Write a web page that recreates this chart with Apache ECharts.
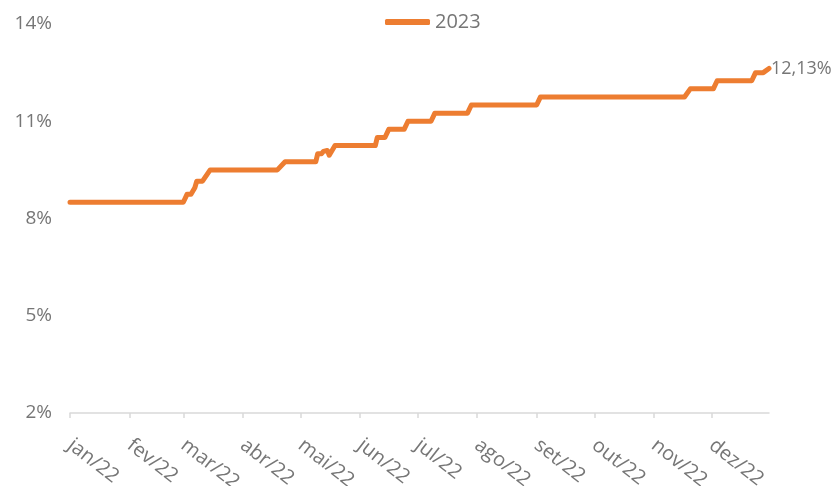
<!DOCTYPE html>
<html>
<head>
<meta charset="utf-8">
<script src="https://cdn.jsdelivr.net/npm/echarts@6/dist/echarts.min.js"></script>
<style>
html,body{margin:0;padding:0;background:#fff;}
#chart{width:833px;height:486px;}
</style>
</head>
<body>
<div id="chart"></div>
<script>
// Series: change points of the step line (date, value in %)
const seriesName = '2023';
const pointDates = [
  '2022-01-01','2022-03-01','2022-03-03','2022-03-05','2022-03-06','2022-03-07','2022-03-08','2022-03-11','2022-03-12','2022-03-15',
  '2022-04-19','2022-04-20','2022-04-23','2022-05-09','2022-05-10','2022-05-12','2022-05-13','2022-05-15','2022-05-16','2022-05-19',
  '2022-06-09','2022-06-10','2022-06-14','2022-06-16','2022-06-24','2022-06-26','2022-07-08','2022-07-10','2022-07-27','2022-07-29',
  '2022-09-01','2022-09-03','2022-11-17','2022-11-20','2022-12-02','2022-12-04','2022-12-22','2022-12-24','2022-12-28','2022-12-31'
];
const pointValues = [
  8.0, 8.0, 8.25, 8.25, 8.2, 8.45, 8.65, 8.65, 8.6, 9.0,
  9.0, 8.95, 9.25, 9.25, 9.5, 9.5, 9.57, 9.6, 9.45, 9.75,
  9.75, 10.0, 10.0, 10.25, 10.25, 10.5, 10.5, 10.75, 10.75, 11.0,
  11.0, 11.25, 11.25, 11.5, 11.5, 11.75, 11.75, 12.0, 12.0, 12.13
];
// X axis: month starts and tick labels
const monthStarts = ['2022-01-01','2022-02-01','2022-03-01','2022-04-01','2022-05-01','2022-06-01',
                     '2022-07-01','2022-08-01','2022-09-01','2022-10-01','2022-11-01','2022-12-01'];
const monthLabels = ['jan/22','fev/22','mar/22','abr/22','mai/22','jun/22',
                     'jul/22','ago/22','set/22','out/22','nov/22','dez/22'];
const axisStart = '2022-01-01';
const axisEnd = '2022-12-31';
// Y axis tick positions and labels
const yTickValues = [1.5, 4.5, 7.5, 10.5, 13.5];
const yTickLabels = ['2%', '5%', '8%', '11%', '14%'];

function dayOf(s) {
  const p = s.split('-').map(Number);
  const p0 = axisStart.split('-').map(Number);
  return Math.round((Date.UTC(p[0], p[1]-1, p[2]) - Date.UTC(p0[0], p0[1]-1, p0[2])) / 86400000);
}
const monthDays = monthStarts.map(dayOf);
const data = pointDates.map((d, i) => [dayOf(d), pointValues[i]]);

const FONT = '"Open Sans", sans-serif';
const GRAY = '#767676';
const chart = echarts.init(document.getElementById('chart'), null, {renderer: 'canvas'});
chart.setOption({
  animation: false,
  backgroundColor: '#ffffff',
  grid: {left: 70, right: 64, top: 24, bottom: 73, containLabel: false, outerBoundsMode: 'none'},
  legend: {
    top: 7, left: 380,
    data: [seriesName],
    icon: 'roundRect', itemWidth: 45, itemHeight: 6, itemGap: 8,
    textStyle: {fontFamily: FONT, fontSize: 20, color: GRAY}
  },
  xAxis: {
    type: 'value', min: dayOf(axisStart), max: dayOf(axisEnd),
    splitLine: {show: false},
    axisLine: {show: true, lineStyle: {color: '#d9d9d9', width: 1.5}},
    axisTick: {show: true, length: 5, lineStyle: {color: '#d9d9d9', width: 1.5}, customValues: monthDays},
    axisLabel: {
      customValues: monthDays,
      rotate: -38, margin: 30,
      fontFamily: FONT, fontSize: 20, color: GRAY,
      formatter: v => { const i = monthDays.indexOf(Math.round(v)); return i >= 0 ? monthLabels[i] : ''; }
    }
  },
  yAxis: {
    type: 'value', min: 1.5, max: 13.5,
    splitLine: {show: false},
    axisLine: {show: false}, axisTick: {show: false},
    axisLabel: {
      customValues: yTickValues, margin: 18,
      fontFamily: FONT, fontSize: 19, color: GRAY,
      formatter: v => { const i = yTickValues.findIndex(t => Math.abs(t - v) < 1e-6); return i >= 0 ? yTickLabels[i] : ''; }
    }
  },
  series: [{
    name: seriesName, type: 'line', data: data,
    symbol: 'none', smooth: false,
    lineStyle: {color: '#ED7D31', width: 5, cap: 'round', join: 'round'},
    itemStyle: {color: '#ED7D31'},
    endLabel: {
      show: true, distance: 2,
      fontFamily: FONT, fontSize: 18, color: GRAY,
      formatter: p => p.value[1].toFixed(2).replace('.', ',') + '%'
    }
  }]
});
</script>
</body>
</html>
